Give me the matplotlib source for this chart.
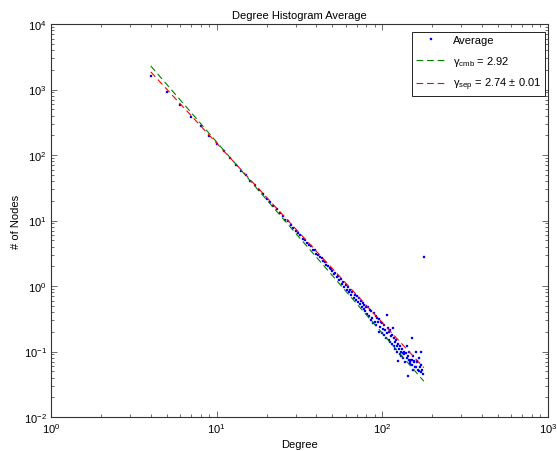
import matplotlib
matplotlib.use("Agg")
import matplotlib.pyplot as plt
import numpy as np

plt.rcParams['font.family'] = ['Liberation Sans', 'DejaVu Sans']
plt.rcParams['mathtext.fontset'] = 'custom'
plt.rcParams['mathtext.rm'] = 'Liberation Sans'
plt.rcParams['mathtext.it'] = 'Liberation Sans'

# ---- data ----
degree = [4, 5, 6, 7, 8, 9, 10, 11, 12, 13, 14, 15, 16, 17, 18, 19, 20, 21, 22, 23,
          24, 25, 26, 27, 28, 29, 30, 31, 32, 33, 34, 35, 36, 37, 38, 39, 40, 41, 42,
          43, 44, 45, 46, 47, 48, 49, 50, 51, 52, 53, 54, 55, 56, 57, 58, 59, 60, 61,
          62, 63, 64, 65, 66, 67, 68, 69, 70, 71, 72, 73, 74, 75, 76, 77, 78, 79, 80,
          81, 82, 83, 84, 85, 86, 87, 88, 89, 90, 91, 92, 93, 94, 95, 96, 97, 98, 99,
          100, 101, 102, 103, 104, 105, 106, 107, 108, 109, 110, 111, 112, 113, 114,
          115, 116, 117, 118, 119, 120, 121, 122, 123, 124, 125, 126, 127, 128, 129,
          130, 132, 133, 134, 135, 136, 137, 138, 140, 141, 142, 143, 144, 145, 146,
          147, 148, 150, 151, 152, 153, 154, 155, 156, 158, 159, 160, 162, 163, 165,
          166, 167, 168, 170, 171, 172, 173, 175, 178]
avg_nodes = [1625, 925, 580, 385, 280, 197, 147, 116, 90, 70, 57, 49, 40, 34.5, 28.8,
             25.5, 21.5, 19.3, 16.5, 15.1, 13.0, 11.9, 10.3, 9.7, 8.5, 7.7, 7.0, 6.4,
             6.1, 5.3, 5.0, 4.6, 4.2, 4.1, 3.6, 3.5, 3.1, 3.0, 2.75, 2.7, 2.4, 2.35,
             2.1, 2.05, 1.9, 1.85, 1.7, 1.50, 1.58, 1.35, 1.42, 1.22, 1.30, 1.08, 1.15,
             0.98, 1.05, 0.88, 0.98, 0.80, 0.86, 0.73, 0.82, 0.66, 0.74, 0.62, 0.70,
             0.56, 0.65, 0.53, 0.60, 0.47, 0.55, 0.45, 0.52, 0.41, 0.48,
             0.37, 0.48, 0.35, 0.43, 0.30, 0.42, 0.33, 0.27, 0.39, 0.28, 0.35, 0.25,
             0.33, 0.28, 0.20, 0.31, 0.24, 0.28, 0.19, 0.27, 0.22, 0.18, 0.25, 0.21,
             0.16, 0.36, 0.19, 0.23, 0.15, 0.20, 0.14, 0.21, 0.17, 0.13, 0.18, 0.23,
             0.12, 0.16, 0.14, 0.11, 0.15, 0.12, 0.10, 0.072, 0.13, 0.11, 0.09, 0.12,
             0.10, 0.085, 0.11, 0.095, 0.08, 0.10, 0.09, 0.07, 0.095, 0.12, 0.08,
             0.042, 0.085, 0.075, 0.10, 0.065, 0.07, 0.075, 0.16, 0.075, 0.062, 0.052,
             0.085, 0.068, 0.072, 0.058, 0.10, 0.058, 0.072, 0.068, 0.052, 0.05, 0.08,
             0.058, 0.062, 0.048, 0.097, 0.052, 0.045, 2.77]

gamma_cmb = 2.92
amp_cmb = 131200.0
gamma_sep = 2.74
gamma_sep_err = 0.01
amp_sep = 83000.0
fit_kmin, fit_kmax = 4, 178

title = "Degree Histogram Average"
xlabel = "Degree"
ylabel = "# of Nodes"

# ---- figure ----
fig = plt.figure(figsize=(5.57, 4.52), dpi=100)
ax = fig.add_axes([51/557, 1 - 418/452, 497/557, 393/452])

kfit = np.logspace(np.log10(fit_kmin), np.log10(fit_kmax), 200)
ax.loglog(kfit, amp_cmb * kfit ** (-gamma_cmb), linestyle=(0, (6, 3.5)), color=(0, 0.5, 0),
          linewidth=0.8, label='\u03b3$_{\\mathregular{cmb}}$ = %.2f' % gamma_cmb, zorder=3)
ax.loglog(kfit, amp_sep * kfit ** (-gamma_sep), linestyle=(0, (6, 3.5)), color=(1, 0, 0),
          linewidth=0.8, label='\u03b3$_{\\mathregular{sep}}$ = %.2f \u00b1 %.2f' % (gamma_sep, gamma_sep_err), zorder=3)
pts, = ax.loglog(degree, avg_nodes, linestyle='none', marker='s', markersize=1.6,
                 color=(0, 0, 1), markeredgewidth=0.2, label='Average', zorder=2)

ax.set_xlim(1, 1000)
ax.set_ylim(1e-2, 1e4)
ax.set_title(title, fontsize=8, pad=4)
ax.set_xlabel(xlabel, fontsize=8, labelpad=3)
ax.set_ylabel(ylabel, fontsize=8, labelpad=2)

ax.tick_params(which='both', direction='in', top=True, right=True, labelsize=8,
               color='#333333')
ax.tick_params(which='major', length=4, width=0.5, pad=3)
ax.tick_params(which='minor', length=2.5, width=0.5)
ax.yaxis.set_major_locator(matplotlib.ticker.LogLocator(base=10, numticks=10))
ax.yaxis.set_minor_locator(matplotlib.ticker.LogLocator(base=10, subs=np.arange(2, 10), numticks=20))
for s in ax.spines.values():
    s.set_linewidth(0.8)
    s.set_color('#333333')

handles, labels = ax.get_legend_handles_labels()
order = [2, 0, 1]
leg = ax.legend([handles[i] for i in order], [labels[i] for i in order],
                loc='upper right', fontsize=8, fancybox=False, framealpha=1,
                edgecolor='black', bbox_to_anchor=(0.994, 0.98), borderaxespad=0.0,
                handlelength=2.8, handletextpad=0.6,
                labelspacing=0.75, borderpad=0.3, markerscale=1.0)
leg.get_frame().set_linewidth(0.6)

fig.savefig('out.png', dpi=100)
